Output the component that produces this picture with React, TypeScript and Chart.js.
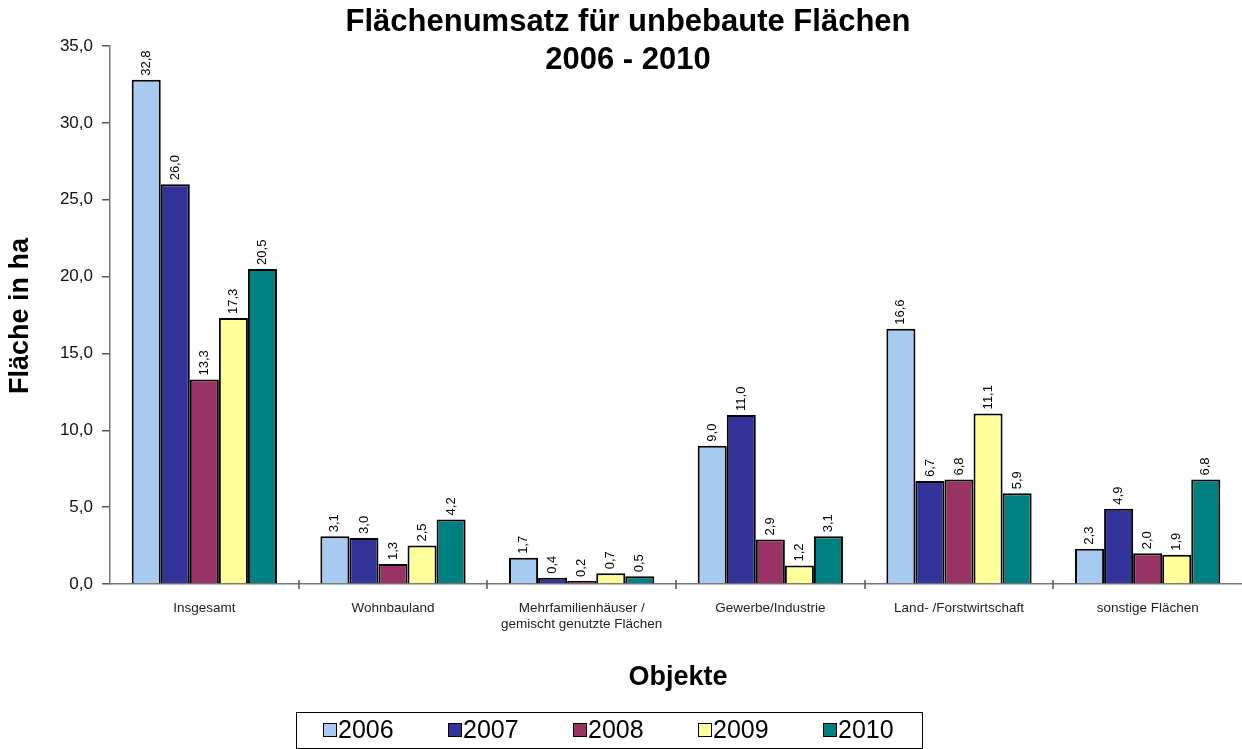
import React, { useEffect, useRef } from "react";
import { Chart, registerables } from "chart.js";

Chart.register(...registerables);

const categories: (string | string[])[] = [
  "Insgesamt",
  "Wohnbauland",
  ["Mehrfamilienhäuser /", "gemischt genutzte Flächen"],
  "Gewerbe/Industrie",
  "Land- /Forstwirtschaft",
  "sonstige Flächen",
];

const years = ["2006", "2007", "2008", "2009", "2010"];
const values2006 = [32.8, 3.1, 1.7, 9.0, 16.6, 2.3];
const values2007 = [26.0, 3.0, 0.4, 11.0, 6.7, 4.9];
const values2008 = [13.3, 1.3, 0.2, 2.9, 6.8, 2.0];
const values2009 = [17.3, 2.5, 0.7, 1.2, 11.1, 1.9];
const values2010 = [20.5, 4.2, 0.5, 3.1, 5.9, 6.8];
const colors = ["#A6CAF0", "#333399", "#993366", "#FFFF99", "#008080"];

const yTicks = [0, 5, 10, 15, 20, 25, 30, 35];

const titleLines = ["Flächenumsatz für unbebaute Flächen", "2006 - 2010"];
const yTitle = "Fläche in ha";
const xTitle = "Objekte";

const FONT = "Arial, 'Liberation Sans', sans-serif";
const fmt = (v: number) => v.toFixed(1).replace(".", ",");

const decorPlugin = {
  id: "decor",
  afterDatasetsDraw(chart: any) {
    const ctx = chart.ctx;
    ctx.save();
    // data labels
    ctx.font = `13px ${FONT}`;
    ctx.fillStyle = "#000";
    ctx.textAlign = "left";
    ctx.textBaseline = "middle";
    chart.data.datasets.forEach((ds: any, di: number) => {
      const meta = chart.getDatasetMeta(di);
      meta.data.forEach((bar: any, i: number) => {
        const v = ds.data[i];
        ctx.save();
        ctx.translate(bar.x, bar.y - 4);
        ctx.rotate(-Math.PI / 2);
        ctx.fillText(fmt(v), 0, 0);
        ctx.restore();
      });
    });
    // x-axis crossing ticks at category boundaries
    const xs = chart.scales.x;
    const area = chart.chartArea;
    ctx.strokeStyle = "#555";
    ctx.lineWidth = 1.5;
    const n = categories.length;
    for (let i = 1; i < n; i++) {
      const x = Math.round((xs.getPixelForTick(i - 1) + xs.getPixelForTick(i)) / 2);
      ctx.beginPath();
      ctx.moveTo(x, area.bottom - 4);
      ctx.lineTo(x, area.bottom + 5);
      ctx.stroke();
    }
    ctx.restore();
  },
  afterDraw(chart: any) {
    const ctx = chart.ctx;
    ctx.save();
    ctx.fillStyle = "#000";
    ctx.textAlign = "center";
    ctx.textBaseline = "middle";
    ctx.font = `bold 31px ${FONT}`;
    ctx.fillText(titleLines[0], 628, 22);
    ctx.fillText(titleLines[1], 628, 60);
    ctx.font = `bold 27px ${FONT}`;
    ctx.fillText(xTitle, 678, 678);
    ctx.save();
    ctx.translate(21, 316);
    ctx.rotate(-Math.PI / 2);
    ctx.fillText(yTitle, 0, 0);
    ctx.restore();

    // legend
    ctx.strokeStyle = "#000";
    ctx.lineWidth = 1;
    ctx.strokeRect(296.5, 712.5, 626, 36);
    ctx.font = `25px ${FONT}`;
    ctx.textAlign = "left";
    years.forEach((y, i) => {
      const x = 323 + i * 125;
      ctx.fillStyle = colors[i];
      ctx.fillRect(x, 723, 13, 13);
      ctx.strokeRect(x + 0.5, 723.5, 13, 13);
      ctx.fillStyle = "#000";
      ctx.fillText(y, x + 15, 731);
    });
    ctx.restore();
  },
};

export default function App() {
  const ref = useRef<HTMLCanvasElement>(null);
  useEffect(() => {
    if (!ref.current) return;
    const series = [values2006, values2007, values2008, values2009, values2010];
    const chart = new Chart(ref.current, {
      type: "bar",
      data: {
        labels: categories,
        datasets: series.map((d, i) => ({
          label: years[i],
          data: d,
          backgroundColor: colors[i],
          borderColor: "#000",
          borderWidth: 2,
          categoryPercentage: 0.77,
          barPercentage: 1,
        })),
      },
      options: {
        responsive: false,
        animation: false,
        layout: { padding: { top: 46, left: 0, right: 0, bottom: 0 } },
        plugins: {
          legend: { display: false },
          title: { display: false },
          tooltip: { enabled: false },
        },
        scales: {
          x: {
            afterFit: (s: any) => {
              s.height = 165;
            },
            grid: { display: false, drawOnChartArea: false },
            border: { display: true, color: "#777", width: 1.5 },
            ticks: {
              color: "#222",
              font: { family: FONT, size: 13.5, lineHeight: 1.2 },
              padding: 8,
              maxRotation: 0,
              autoSkip: false,
            },
          },
          y: {
            min: 0,
            max: 35,
            afterFit: (s: any) => {
              s.width = 110;
            },
            afterBuildTicks: (s: any) => {
              s.ticks = yTicks.map((v) => ({ value: v }));
            },
            grid: {
              drawOnChartArea: false,
              drawTicks: true,
              tickLength: 8,
              color: "#555",
              lineWidth: 1.5,
            },
            border: { display: true, color: "#777", width: 1.5 },
            ticks: {
              color: "#111",
              font: { family: FONT, size: 17 },
              padding: 9,
              callback: (v: any) => fmt(Number(v)),
            },
          },
        },
      },
      plugins: [decorPlugin],
    });
    return () => chart.destroy();
  }, []);
  return (
    <div style={{ position: "absolute", left: 0, top: 0, width: 1242, height: 749, background: "#fff" }}>
      <canvas ref={ref} width={1242} height={749} style={{ display: "block" }} />
    </div>
  );
}
